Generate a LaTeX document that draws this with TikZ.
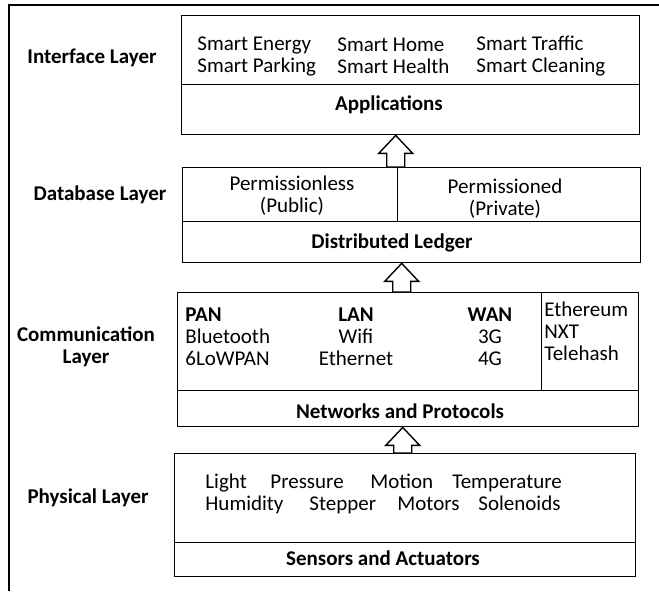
\documentclass[tikz,border=0pt]{standalone}
\usepackage{fontspec}
\setmainfont{Carlito}
\usepackage{tikz}
\usetikzlibrary{calc}

\tikzset{
  box/.style={draw,line width=0.7pt,inner sep=0pt,anchor=north west},
  txt/.style={inner sep=0pt,font=\fontsize{10.5}{11}\selectfont},
  ttl/.style={txt,font=\fontsize{10.5}{11}\selectfont\bfseries},
  word/.style={txt,anchor=west,text height=1.5ex,text depth=.3ex},
  hollow/.style={line width=0.7pt,fill=white,line join=miter}
}
\newcommand{\hollowup}[2]{\draw[hollow] let \p1=(#1), \p2=(#2) in
  (\p1) -- ++(8.5pt,-9pt) -- ++(-4pt,0pt) -- (\x1+4.5pt,\y2) -- (\x1-4.5pt,\y2)
  -- (\x1-4.5pt,\y1-9pt) -- ++(-4pt,0pt) -- cycle;}

\begin{document}
\begin{tikzpicture}[x=0.5pt,y=-0.5pt]
\useasboundingbox (0,0) rectangle (659,591);
\draw[line width=0.8pt] (9,591) -- (9,5) -- (659,5);

\node[box,minimum width=229pt,minimum height=34.5pt] (smart) at (181,15) {};
\node[box,minimum width=229pt,minimum height=25pt] (apps) at (181,84) {};
\node[txt,align=left,anchor=west] (se) at (197,56) {Smart Energy\\Smart Parking};
\node[txt,align=left,anchor=west] (sh) at (337,56) {Smart Home\\Smart Health};
\node[txt,align=left,anchor=west] (st) at (476,56) {Smart Traffic\\Smart Cleaning};
\node[ttl] (appt) at (389,105) {Applications};
\node[ttl] (ifl) at (92,58) {Interface Layer};

\node[box,minimum width=107.5pt,minimum height=27pt] (pless) at (182,167) {};
\node[box,minimum width=121.5pt,minimum height=27pt] (pmed) at (397,167) {};
\node[box,minimum width=229pt,minimum height=20.5pt] (ledger) at (182,221) {};
\node[txt,align=center] (plt) at (292,196) {Permissionless\\(Public)};
\node[txt,align=center] (pmt) at (505,199) {Permissioned\\(Private)};
\node[ttl] (ledt) at (392,243) {Distributed Ledger};
\node[ttl] (dbl) at (100,195) {Database Layer};

\node[box,minimum width=182pt,minimum height=49pt] (nets) at (177,292) {};
\node[box,minimum width=48.5pt,minimum height=49pt] (chain) at (541,292) {};
\node[box,minimum width=230.5pt,minimum height=18pt] (netprot) at (177,390) {};
\node[txt,align=left,anchor=west] (pan) at (185,337) {\textbf{PAN}\\Bluetooth\\6LoWPAN};
\node[txt,align=center] (lan) at (356,337) {\textbf{LAN}\\Wifi\\Ethernet};
\node[txt,align=center] (wan) at (490,337) {\textbf{WAN}\\3G\\4G};
\node[txt,align=left,anchor=west] (cht) at (544,331) {Ethereum\\NXT\\Telehash};
\node[ttl] (npt) at (400,411) {Networks and Protocols};
\node[ttl,align=center] (cml) at (86,347) {Communication\\Layer};

\node[box,minimum width=230.5pt,minimum height=44.5pt] (devs) at (174,453) {};
\node[box,minimum width=230.5pt,minimum height=17pt] (sens) at (174,542) {};
\foreach \wx/\wname in {205/Light,270/Pressure,370/Motion,452/Temperature}
  \node[word] (a\wx) at (\wx,483) {\wname};
\foreach \wx/\wname in {205/Humidity,309/Stepper,397/Motors,478/Solenoids}
  \node[word] (b\wx) at (\wx,505) {\wname};
\node[ttl] (sat) at (383,558) {Sensors and Actuators};
\node[ttl] (phl) at (88,498) {Physical Layer};

\hollowup{$(apps.south)+(-15,0)$}{pless.north}
\hollowup{$(ledger.south)+(-10,0)$}{nets.north}
\hollowup{$(netprot.south)+(-5.5,0)$}{devs.north}
\end{tikzpicture}
\end{document}
